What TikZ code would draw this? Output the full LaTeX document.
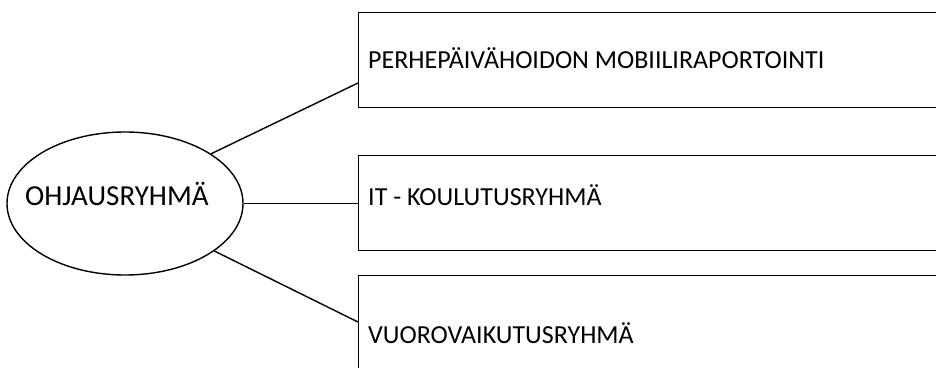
\documentclass[tikz,border=0pt]{standalone}
\usepackage{fontspec}
\setmainfont{Carlito}
\usetikzlibrary{shapes.geometric}

\tikzset{
	grpbox/.style={draw, line width=1.4pt, rectangle, anchor=north west, minimum width=620pt, minimum height=95pt},
	grptext/.style={anchor=base west, inner sep=0pt, font=\fontsize{26}{30}\selectfont},
	ohjaus/.style={draw, line width=1.4pt, ellipse, inner sep=0pt, minimum width=236pt, minimum height=143pt},
	yhteys/.style={line width=1.4pt}
}

\begin{document}
\begin{tikzpicture}[x=1pt, y=-1pt]
		\useasboundingbox (0,0) rectangle (936,367);
		\clip (0,0) rectangle (936,367);
		% ohjausryhma
		\node [ohjaus] (ohjaus) at (125,203.5) {};
		\node [grptext, font=\fontsize{29}{33}\selectfont] (ohjausteksti) at (25,205) {OHJAUSRYHMÄ};
		% ryhmat
		\node [grpbox] (mobiili) at (358,12) {};
		\node [grpbox] (koulutus) at (358,155) {};
		\node [grpbox, minimum height=110pt] (vuoro) at (358,275) {};
		\node [grptext] (mobiiliteksti) at (368,68) {PERHEPÄIVÄHOIDON MOBIILIRAPORTOINTI};
		\node [grptext] (koulutusteksti) at (368,205) {IT - KOULUTUSRYHMÄ};
		\node [grptext] (vuoroteksti) at (368,343) {VUOROVAIKUTUSRYHMÄ};
		% yhteydet
		\draw [yhteys] (ohjaus.30) -- (mobiili.north west |- 0,83);
		\draw [yhteys] (ohjaus.east) -- (koulutus.north west |- ohjaus.east);
		\draw [yhteys] (ohjaus.-28) -- (vuoro.north west |- 0,322);
	\end{tikzpicture}
\end{document}
